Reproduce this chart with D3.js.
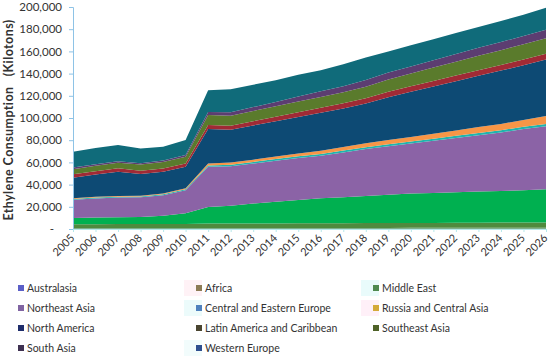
<!DOCTYPE html>
<html>
<head>
<meta charset="utf-8">
<script src="https://cdn.jsdelivr.net/npm/d3@7"></script>
<style>
  body { margin: 0; background: #fff; }
  text { font-family: Lato, "Liberation Sans", sans-serif; fill: #333; }
</style>
</head>
<body>
<div id="container"></div>
<script>
// years on the x axis
var years = d3.range(2005, 2027);

// series names, bottom of the stack first
var seriesNames = ["Australasia", "Africa", "Middle East", "Northeast Asia",
  "Central and Eastern Europe", "Russia and Central Asia", "North America",
  "Latin America and Caribbean", "Southeast Asia", "South Asia", "Western Europe"];

// values (kilotons)
var australasia = [800,800,800,800,800,800,900,900,900,900,1000,1000,1000,1000,1000,1100,1100,1100,1200,1200,1200,1200];
var africa      = [3500,3500,3600,3600,3700,3800,4000,4000,4000,4100,4100,4200,4200,4300,4300,4400,4400,4500,4500,4600,4600,4700];
var middleEast  = [5500,6000,6200,6300,7500,9500,15000,16000,18000,19500,21000,22500,23500,24500,25500,26500,27000,27500,28000,28500,29000,30000];
var northeastAsia = [16500,17200,17700,17800,18500,20900,36100,35600,36100,37000,37900,38300,40300,42200,43700,45000,47000,48900,50800,52700,55200,56600];
var centralEastEurope = [800,800,800,800,800,900,1300,1400,1400,1500,1500,1600,1700,1700,1800,1800,1900,1900,2000,2000,2100,2200];
var russiaCentralAsia = [700,700,700,700,700,800,1800,1900,2100,2300,2600,2900,3200,3500,3800,4100,4500,4900,5300,5700,6100,7000];
var northAmerica = [18400,20000,21800,19500,19500,19300,30900,29700,30800,31800,32900,34300,34700,35800,38700,40700,42500,44400,46200,48000,49300,51000];
var latinAmerica = [3100,3100,3100,3000,3000,3000,3700,3600,3800,4000,4200,4400,4600,4700,4800,4900,5000,5000,5100,5100,5200,5200];
var southeastAsia = [4500,4800,5000,5500,5800,6000,9000,9000,9200,9400,9600,9800,10000,10500,11000,11500,12000,12500,13000,13300,13700,14000];
var southAsia = [1500,1400,1300,1300,1500,1700,2800,3000,3500,4000,4500,5000,5500,6000,6300,6500,6700,6900,7100,7300,7500,7700];
var westernEurope = [14200,14700,14700,13200,12300,13500,19500,20900,20200,19500,19700,19000,19800,20300,19100,19100,18900,18900,18800,19100,19100,19800];

var seriesValues = [australasia, africa, middleEast, northeastAsia, centralEastEurope,
  russiaCentralAsia, northAmerica, latinAmerica, southeastAsia, southAsia, westernEurope];

// y axis ticks
var yTicks = d3.range(0, 200001, 20000);

// colours of the areas and of the legend swatches
var areaColors = ["#7fae8a", "#4f8a3e", "#00b050", "#8b63a6", "#1fb5ae", "#f79646",
  "#0d4a74", "#a02a35", "#5a7b2c", "#5c3d71", "#106b7a"];
var swatchColors = ["#5b5fc7", "#8c7b55", "#4f8a4f", "#8064a2", "#4f81bd", "#d4aa3a",
  "#1f2d6b", "#4a4530", "#4f6228", "#3f3151", "#2f4f8f"];

var width = 550, height = 356;
var plot = { left: 73, right: 546, top: 7, bottom: 229 };

var svg = d3.select("#container").append("svg")
  .attr("width", width)
  .attr("height", height);

// build rows for the stack
var rows = years.map(function(yr, i) {
  var r = { year: yr };
  seriesNames.forEach(function(n, j) { r[n] = seriesValues[j][i]; });
  return r;
});

var x = d3.scaleLinear().domain([2005, 2026]).range([plot.left, plot.right]);
var y = d3.scaleLinear().domain([0, 200000]).range([plot.bottom, plot.top]);

var stacked = d3.stack().keys(seriesNames)(rows);

var area = d3.area()
  .x(function(d) { return x(d.data.year); })
  .y0(function(d) { return y(d[0]); })
  .y1(function(d) { return y(d[1]); });

svg.append("g").selectAll("path")
  .data(stacked)
  .enter().append("path")
  .attr("fill", function(d, i) { return areaColors[i]; })
  .attr("d", area);

// y axis
var yAxis = svg.append("g")
  .attr("transform", "translate(" + plot.left + ",0)")
  .call(d3.axisLeft(y)
    .tickValues(yTicks)
    .tickSize(4)
    .tickPadding(7)
    .tickFormat(function(d) { return d === 0 ? "-" : d3.format(",")(d); }));
yAxis.select(".domain").attr("stroke", "#8ec3e6");
yAxis.selectAll(".tick line").attr("stroke", "#8ec3e6");
yAxis.selectAll(".tick text")
  .style("font-size", "11.5px")
  .attr("fill", "#333")
  .attr("dx", function(d) { return d === 0 ? -8 : 0; });

// x axis
var xAxis = svg.append("g")
  .attr("transform", "translate(0," + plot.bottom + ")")
  .call(d3.axisBottom(x)
    .tickValues(years)
    .tickSize(3)
    .tickFormat(d3.format("d")));
xAxis.select(".domain").attr("stroke", "#b5e8ea");
xAxis.selectAll(".tick line").attr("stroke", "#b5e8ea");
xAxis.selectAll(".tick text")
  .style("font-size", "11px")
  .attr("fill", "#333")
  .attr("text-anchor", "end")
  .attr("dy", "0.35em")
  .attr("transform", "translate(-1,7) rotate(-45)")
  .attr("y", 0)
  .attr("x", 0);

// y axis title
svg.append("text")
  .attr("transform", "translate(13,120) rotate(-90)")
  .attr("text-anchor", "middle")
  .style("font-size", "12.5px")
  .style("font-weight", "bold")
  .style("letter-spacing", "0.4px")
  .style("white-space", "pre")
  .attr("fill", "#222")
  .text("Ethylene Consumption   (Kilotons)");

// legend, three columns
var legendCols = [18, 196, 373];
var legendRows = [288, 308, 328, 348];
var legendBg = [null, "#fff2f6", "#e9fbfb", null, "#ecfbfb", "#fff0f8", null, null, null, null, "#f2fcfc"];

var legend = svg.append("g").selectAll("g")
  .data(seriesNames)
  .enter().append("g")
  .attr("transform", function(d, i) {
    return "translate(" + legendCols[i % 3] + "," + legendRows[Math.floor(i / 3)] + ")";
  });

legend.filter(function(d, i) { return legendBg[i]; })
  .append("rect")
  .attr("x", -12).attr("y", -8)
  .attr("width", 18).attr("height", 16)
  .attr("fill", function(d) { return legendBg[seriesNames.indexOf(d)]; });

legend.append("rect")
  .attr("x", 0).attr("y", -3)
  .attr("width", 6).attr("height", 6)
  .attr("fill", function(d, i) { return swatchColors[i]; });

legend.append("text")
  .attr("x", 9)
  .attr("dy", "0.35em")
  .style("font-size", "10.5px")
  .attr("fill", "#333")
  .text(function(d) { return d; });
</script>
</body>
</html>
